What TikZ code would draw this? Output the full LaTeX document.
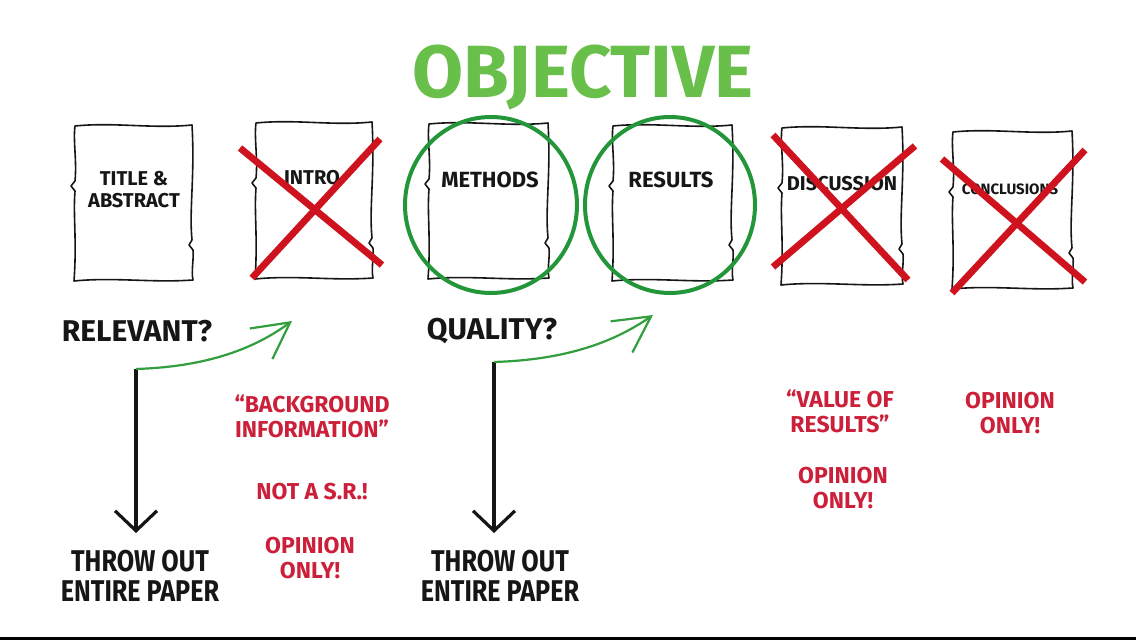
\documentclass[tikz,border=0pt]{standalone}
\usepackage{fontspec}
\setmainfont{Fira Sans}
\newfontfamily\narrowfont{Fira Sans}[FakeStretch=0.84]
\usetikzlibrary{arrows.meta}
\definecolor{titlegreen}{RGB}{104,192,74}
\definecolor{ringgreen}{RGB}{36,150,58}
\definecolor{crossred}{RGB}{206,18,30}
\definecolor{notered}{RGB}{204,32,58}
\definecolor{ink}{RGB}{22,22,22}
\newcommand\sheet[4]{%
 \draw[sheetline] (#1,#2) .. controls ({#1+40},{#2-4}) and ({#3-40},{#2+3}) .. ({#3},{#2-1})
 .. controls ({#3+3},{#2+50}) and ({#3-3},{#4-70}) .. ({#3},{#4-40})
 -- ({#3-3},{#4-35}) -- ({#3+1},{#4-30})
 .. controls ({#3+2},{#4-20}) and ({#3-1},{#4-10}) .. ({#3+1},{#4})
 .. controls ({#3-40},{#4+3}) and ({#1+40},{#4-3}) .. ({#1-1},{#4+1})
 .. controls ({#1+2},{#4-40}) and ({#1-2},{#2+90}) .. ({#1},{#2+65})
 -- ({#1-4},{#2+60}) -- ({#1},{#2+55})
 .. controls ({#1+2},{#2+35}) and ({#1-2},{#2+15}) .. cycle;}
\begin{document}
\begin{tikzpicture}[x=0.5pt,y=-0.5pt,
 sheetline/.style={draw=ink,line width=0.8pt,line join=round},
 crossline/.style={draw=crossred,line width=3.4pt},
 ring/.style={draw=ringgreen,line width=2pt},
 sheetlab/.style={text=ink,font=\bfseries\fontsize{10}{11}\selectfont,align=center,inner sep=0pt},
 question/.style={text=ink,font=\bfseries\fontsize{15}{15}\selectfont,align=center,inner sep=0pt},
 throw/.style={text=ink,font=\narrowfont\bfseries\fontsize{15}{15}\selectfont,align=center,inner sep=0pt},
 note/.style={text=notered,font=\bfseries\fontsize{11.5}{12.5}\selectfont,align=center,inner sep=0pt},
 down/.style={draw=ink,line width=1.6pt,-{Straight Barb[length=10pt,width=21pt]}},
 pass/.style={draw=ringgreen!80!titlegreen,line width=1.1pt,-{Straight Barb[length=18pt,width=19pt]}}]
\useasboundingbox[fill=white] (0,0) rectangle (1136,640);
\fill[black] (0,637) rectangle (1136,640);
% title
\node[text=titlegreen,font=\bfseries\fontsize{37}{37}\selectfont,inner sep=0pt] (title) at (583,77) {OBJECTIVE};
% sheets
\sheet{75}{126}{192}{280}
\sheet{256}{123}{372}{278}
\sheet{429}{124}{548}{278}
\sheet{613}{126}{732}{280}
\sheet{782}{128}{902}{284}
\sheet{953}{132}{1072}{288}
\node[sheetlab] (ta) at (134,190) {TITLE \&\\ABSTRACT};
\node[sheetlab] (intro) at (312,178) {INTRO};
\node[sheetlab,font=\bfseries\fontsize{11}{11}\selectfont] (methods) at (490,180) {METHODS};
\node[sheetlab,font=\bfseries\fontsize{11}{11}\selectfont] (results) at (671,180) {RESULTS};
\node[sheetlab,font=\bfseries\fontsize{10}{10}\selectfont] (disc) at (842,184) {DISCUSSION};
\node[sheetlab,font=\bfseries\fontsize{7.5}{8}\selectfont] (concl) at (1010,189) {CONCLUSIONS};
% crosses and rings
\draw[crossline] (240,148) -- (382,265);
\draw[crossline] (252,278) -- (380,139);
\draw[crossline] (773,135) -- (908,280);
\draw[crossline] (773,267) -- (915,146);
\draw[crossline] (942,159) -- (1085,282);
\draw[crossline] (952,293) -- (1085,150);
\draw[ring] (491,205) ellipse [x radius=43pt, y radius=44pt];
\draw[ring] (670,205) ellipse [x radius=42.5pt, y radius=44pt];
% questions
\node[question] (rel) at (137,331) {RELEVANT?};
\node[question] (qual) at (492,331) {QUALITY?};
\coordinate (f1) at (136,369);
\coordinate (f2) at (494,362);
\coordinate (g1) at (292,321);
\coordinate (g2) at (653,315);
\node[throw] (throw1) at (140,576) {THROW OUT\\ENTIRE PAPER};
\node[throw] (throw2) at (500,576) {THROW OUT\\ENTIRE PAPER};
\draw[down] (f1) -- (136,533);
\draw[down] (f2) -- (494,533);
\draw[pass] (f1) .. controls (200,367) and (250,352) .. (g1);
\draw[pass] (f2) .. controls (560,360) and (610,345) .. (g2);
% notes
\node[note] (bg) at (312,416) {``BACKGROUND\\INFORMATION''};
\node[note] (nsr) at (312,492) {NOT A S.R.!};
\node[note] (op1) at (310,558) {OPINION\\ONLY!};
\node[note] (val) at (840,411) {``VALUE OF\\RESULTS''};
\node[note] (op2) at (843,488) {OPINION\\ONLY!};
\node[note] (op3) at (1010,413) {OPINION\\ONLY!};
\end{tikzpicture}
\end{document}
